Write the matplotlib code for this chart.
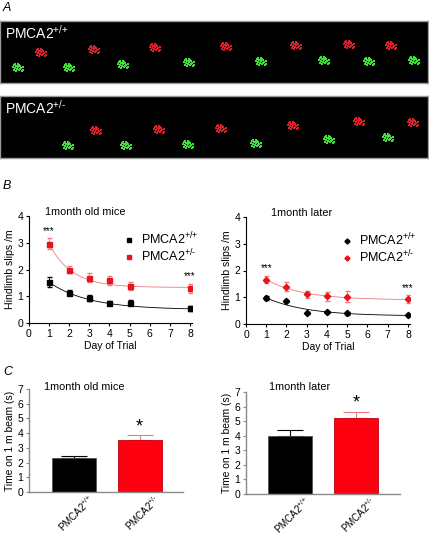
import numpy as np
import matplotlib
matplotlib.use('Agg')
import matplotlib.pyplot as plt
from matplotlib.lines import Line2D
import matplotlib.transforms as mtrans

plt.rcParams['font.family'] = ['Liberation Sans', 'DejaVu Sans']
plt.rcParams['mathtext.fontset'] = 'custom'
plt.rcParams['mathtext.rm'] = 'Liberation Sans'
plt.rcParams['mathtext.it'] = 'Liberation Sans:italic'
plt.rcParams['font.size'] = 7.5

W, H = 429, 536
RED = '#e8141c'
PINK = '#f07a7e'
WT = r'PMCA2$^{\text{+/+}}$'
HET = r'PMCA2$^{\text{+/-}}$'

# ---- panel A footprints (pixel centres inside each 428x62 image) ----
wt_red = [(40, 30), (93, 33), (154, 35), (225, 36), (295, 37), (348, 38), (390, 37)]
wt_green = [(17, 15), (68, 15), (122, 18), (188, 20), (260, 21), (323, 22), (368, 21), (413, 22)]
het_red = [(95, 27), (158, 28), (220, 29), (292, 32), (358, 36), (412, 35)]
het_green = [(67, 12), (125, 12), (187, 13), (255, 14), (328, 18), (387, 20)]
paw = [(-4, 1), (-3, 3), (-2, 0), (-1, 2), (0, -1), (1, 1), (2, -2), (3, 2),
       (-3, -2), (1, 4), (4, 0), (-1, -3), (2, 3), (0, 2), (-2, 4), (3, -1),
       (6, 1), (6, -2), (5, -3)]

# ---- panel B ----
days = [1, 2, 3, 4, 5, 8]
b1_wt = [1.53, 1.14, 0.93, 0.76, 0.76, 0.55]
b1_wt_err = [0.18, 0.08, 0.12, 0.05, 0.1, 0.1]
b1_het = [2.96, 2.0, 1.69, 1.59, 1.39, 1.29]
b1_het_err = [0.2, 0.12, 0.17, 0.17, 0.15, 0.17]
b2_wt = [0.98, 0.87, 0.41, 0.45, 0.40, 0.34]
b2_wt_err = [0.07, 0.03, 0.03, 0.04, 0.06, 0.03]
b2_het = [1.66, 1.39, 1.12, 1.04, 1.02, 0.93]
b2_het_err = [0.13, 0.17, 0.13, 0.17, 0.2, 0.14]
# one-phase decay fit parameters: (value at day 1, plateau, rate)
fit1_wt = (1.52, 0.50, 0.50)
fit1_het = (2.96, 1.33, 0.89)
fit2_wt = (0.98, 0.30, 0.50)
fit2_het = (1.66, 0.90, 0.55)

# ---- panel C ----
groups = [WT, HET]
c1_vals = [2.28, 3.51]
c1_err = [0.2, 0.34]
c2_vals = [3.99, 5.24]
c2_err = [0.39, 0.41]

fig = plt.figure(figsize=(W / 100, H / 100), dpi=100)


def box(l, t, r, b):
    return [l / W, 1 - b / H, (r - l) / W, (b - t) / H]


# panel A
for (t, b), reds, greens, lab in [((21, 83), wt_red, wt_green, WT),
                                  ((96, 158), het_red, het_green, HET)]:
    ax = fig.add_axes(box(0, t, 428, b))
    ax.set_facecolor('black')
    ax.set_xlim(0, 428)
    ax.set_ylim(0, 62)
    ax.set_xticks([])
    ax.set_yticks([])
    for s in ax.spines.values():
        s.set_color('#9a9a9a')
        s.set_linewidth(1)
    for pts, col in [(reds, '#d8202a'), (greens, '#40e03a')]:
        xs = [cx + dx for cx, cy in pts for dx, dy in paw]
        ys = [cy + dy for cx, cy in pts for dx, dy in paw]
        ax.scatter(xs, ys, s=1.6, marker='s', color=col, linewidths=0)
    ax.text(5, 59, lab, color='white', fontsize=10, va='top', ha='left')

fig.text(3 / W, 1 - 8 / H, 'A', fontsize=9, style='italic', va='center')
fig.text(3 / W, 1 - 186 / H, 'B', fontsize=9, style='italic', va='center')
fig.text(3 / W, 1 - 372 / H, 'C', fontsize=9, style='italic', va='center')


def decay(p, x):
    y1, plat, k = p
    return plat + (y1 - plat) * np.exp(-k * (x - 1))


xf = np.linspace(1, 8, 100)
panels_b = [
    (box(29, 216, 192, 323), '1month old mice', 0.1, 's', b1_wt, b1_wt_err, b1_het, b1_het_err, fit1_wt, fit1_het),
    (box(246, 217, 410, 324), '1month later', 0.15, 'D', b2_wt, b2_wt_err, b2_het, b2_het_err, fit2_wt, fit2_het),
]
for pos, title, tx, mk, wt, wte, het, hete, fw, fh in panels_b:
    ax = fig.add_axes(pos)
    ms = 3.6 if mk == 's' else 3.2
    ax.plot(xf, decay(fw, xf), color='black', lw=0.6)
    ax.plot(xf, decay(fh, xf), color=PINK, lw=0.6)
    ax.errorbar(days, wt, yerr=wte, fmt=mk, color='black', ms=ms,
                elinewidth=0.7, capsize=1.8)
    ax.errorbar(days, het, yerr=hete, fmt=mk, color=RED, ecolor=PINK, ms=ms,
                elinewidth=0.7, capsize=1.8)
    ax.text(1, het[0] + hete[0] + 0.1, '***', ha='center', va='bottom', fontsize=7)
    ax.text(8, het[-1] + hete[-1] + 0.1, '***', ha='center', va='bottom', fontsize=7)
    ax.set_xlim(0, 8.1)
    ax.set_ylim(0, 4)
    ax.set_xticks(range(9))
    ax.set_yticks(range(5))
    ax.set_xlabel('Day of Trial', fontsize=7.5, labelpad=2)
    ax.set_ylabel('Hindlimb slips /m', fontsize=7.6, labelpad=2)
    ax.text(tx, 1.035, title, transform=ax.transAxes, fontsize=7.8, va='center', ha='left')
    for s in ['top', 'right']:
        ax.spines[s].set_visible(False)
    for s in ['left', 'bottom']:
        ax.spines[s].set_linewidth(0.8)
    ax.tick_params(length=2.5, width=0.8, labelsize=7.5, pad=1.5)
    handles = [Line2D([], [], ls='', marker=mk, color='black', ms=2.6),
               Line2D([], [], ls='', marker=mk, color=RED, ms=2.6)]
    ax.legend(handles, [WT, HET], loc='upper right', bbox_to_anchor=(1.08, 0.92), frameon=False,
              fontsize=9, handlelength=0.6, handletextpad=0.7, labelspacing=0.0, borderpad=0)

panels_c = [
    (box(29, 389, 183, 492), '1month old mice', 0.1, 1.02, c1_vals, c1_err, (-0.687, 1.66)),
    (box(246, 392, 400, 494), '1month later', 0.15, 1.05, c2_vals, c2_err, (-0.667, 1.667)),
]
for pos, title, tx, ty, vals, err, xl in panels_c:
    ax = fig.add_axes(pos)
    x = np.arange(len(groups))
    ax.bar(x, vals, width=0.67, color=['black', '#ff0010'], edgecolor=['#555555', '#c00010'],
           linewidth=0.6, zorder=2)
    for xi, v, e, c in zip(x, vals, err, ['black', PINK]):
        ax.errorbar(xi, v, yerr=[[0], [e]], color=c, capsize=9.5, elinewidth=0.8, capthick=0.8, zorder=1)
    ax.text(x[1], vals[1] + err[1] + 0.02, '*', ha='center', va='bottom', fontsize=13)
    ax.set_xlim(*xl)
    ax.set_ylim(0, 7)
    ax.set_yticks(range(8))
    ax.set_xticks(x)
    ax.set_xticklabels([])
    shift = mtrans.ScaledTranslation(13 / 100, 0, fig.dpi_scale_trans)
    for xi, g in zip(x, groups):
        ax.text(xi, 0, g, transform=ax.get_xaxis_transform() + shift, rotation=45,
                ha='right', va='top', rotation_mode='anchor', fontsize=7)
    ax.set_ylabel('Time on 1 m beam (s)', fontsize=7.4, labelpad=2)
    ax.text(tx, ty, title, transform=ax.transAxes, fontsize=7.8, va='center', ha='left')
    for s in ['top', 'right']:
        ax.spines[s].set_visible(False)
    for s in ['left', 'bottom']:
        ax.spines[s].set_color('#8a8a8a')
        ax.spines[s].set_linewidth(1)
    ax.tick_params(axis='y', length=2.5, width=0.8, color='#8a8a8a', labelsize=7.5, pad=1.5)
    ax.tick_params(axis='x', length=0, pad=0)

fig.savefig('out.png', dpi=100)
